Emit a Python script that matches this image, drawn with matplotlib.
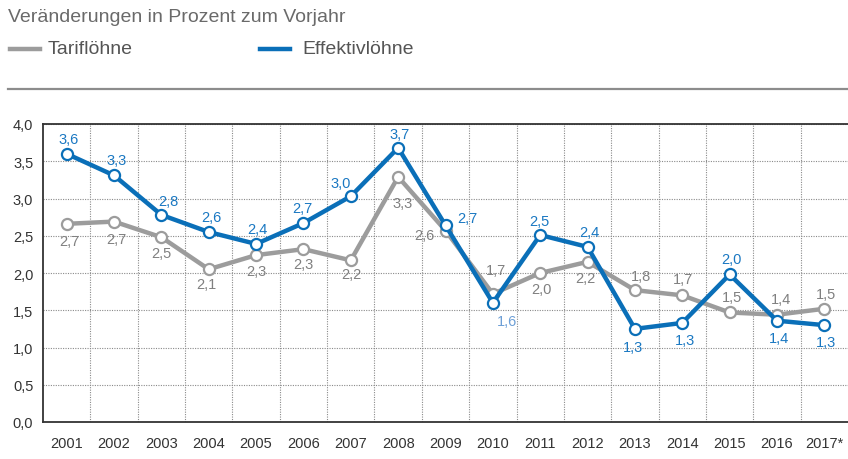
import matplotlib.pyplot as plt
from matplotlib.lines import Line2D

# Daten
years = list(range(2001, 2018))
year_labels = [str(y) for y in years[:-1]] + ['2017*']
tarif = [2.66, 2.69, 2.48, 2.05, 2.24, 2.32, 2.17, 3.29, 2.57, 1.72,
         2.00, 2.15, 1.77, 1.70, 1.47, 1.44, 1.52]
effektiv = [3.60, 3.31, 2.78, 2.55, 2.39, 2.67, 3.03, 3.68, 2.64, 1.60,
            2.51, 2.35, 1.25, 1.33, 1.98, 1.36, 1.30]
tarif_labels = ['2,7', '2,7', '2,5', '2,1', '2,3', '2,3', '2,2', '3,3', '2,6', '1,7',
                '2,0', '2,2', '1,8', '1,7', '1,5', '1,4', '1,5']
effektiv_labels = ['3,6', '3,3', '2,8', '2,6', '2,4', '2,7', '3,0', '3,7', '2,7', '1,6',
                   '2,5', '2,4', '1,3', '1,3', '2,0', '1,4', '1,3']

# Label-Versatz in Pixeln (dx, dy; dy positiv = nach oben)
tarif_off = [(3, -17), (2, -17), (0, -16), (-2, -15), (0, -16), (0, -15), (1, -14),
             (4, -26), (-21, -4), (3, 24), (1, -16), (-2, -16), (6, 14), (1, 16),
             (2, 15), (4, 16), (2, 15)]
effektiv_off = [(2, 15), (3, 15), (7, 14), (3, 15), (1, 15), (-1, 15), (-10, 13),
                (1, 14), (22, 7), (14, -18), (-1, 14), (2, 15), (-2, -18), (3, -17),
                (2, 15), (2, -17), (2, -17)]

BLUE = '#0a6fb8'
GREY = '#9c9c9c'
FONT = 'Liberation Sans'

plt.rcParams['font.family'] = [FONT, 'DejaVu Sans']

fig = plt.figure(figsize=(8.48, 4.6), dpi=100)
ax = fig.add_axes([43 / 848, 37 / 460, 1 - 43 / 848, 298 / 460])

ax.plot(years, tarif, color=GREY, lw=3.2, marker='o', ms=8, mfc='white',
        mec=GREY, mew=1.6, zorder=3, solid_joinstyle='miter')
ax.plot(years, effektiv, color=BLUE, lw=3.2, marker='o', ms=8, mfc='white',
        mec=BLUE, mew=1.6, zorder=4, solid_joinstyle='miter')

px = 72 / 100  # Pixel -> Punkte
for x, y, s, (dx, dy) in zip(years, tarif, tarif_labels, tarif_off):
    ax.annotate(s, (x, y), xytext=(dx * px, dy * px), textcoords='offset points',
                ha='center', va='center', fontsize=10.5, color='#808080', zorder=5)
for x, y, s, (dx, dy) in zip(years, effektiv, effektiv_labels, effektiv_off):
    col = '#6d9fd6' if x == 2010 else '#1a78c2'
    ax.annotate(s, (x, y), xytext=(dx * px, dy * px), textcoords='offset points',
                ha='center', va='center', fontsize=10.5, color=col, zorder=5)

ax.set_xlim(2000.5, 2017.5)
ax.set_ylim(0, 4.0)
ax.set_xticks(years)
ax.set_xticklabels(year_labels)
ax.set_yticks([i * 0.5 for i in range(9)])
ax.set_yticklabels([f'{i * 0.5:.1f}'.replace('.', ',') for i in range(9)])
ax.set_xticks([y + 0.5 for y in years[:-1]], minor=True)
ax.tick_params(which='both', length=0)
ax.tick_params(axis='x', pad=10, labelsize=10.5, colors='#333333')
ax.tick_params(axis='y', pad=7, labelsize=10.5, colors='#333333')
ax.xaxis.grid(True, which='minor', color='#8a8a8a', lw=0.8, ls=(0, (1, 1.2)))
ax.yaxis.grid(True, which='major', color='#8a8a8a', lw=0.8, ls=(0, (1, 1.2)))

for side in ['left', 'bottom', 'top']:
    ax.spines[side].set_color('#333333')
    ax.spines[side].set_linewidth(1.3)
    ax.spines[side].set_zorder(2.5)
ax.spines['right'].set_visible(False)

# Titel, Legende, Trennlinie
fig.text(8 / 848, 1 - 17 / 460, 'Veränderungen in Prozent zum Vorjahr', fontsize=14,
         color='#6a6a6a', va='center', ha='left')
fig.add_artist(Line2D([10 / 848, 40 / 848], [1 - 50 / 460] * 2, color=GREY, lw=3.2))
fig.text(48 / 848, 1 - 50 / 460, 'Tariflöhne', fontsize=14, color='#555555',
         va='center', ha='left')
fig.add_artist(Line2D([260 / 848, 290 / 848], [1 - 50 / 460] * 2, color=BLUE, lw=3.2))
fig.text(302 / 848, 1 - 50 / 460, 'Effektivlöhne', fontsize=14, color='#555555',
         va='center', ha='left')
fig.add_artist(Line2D([8 / 848, 1.0], [1 - 90 / 460] * 2, color='#8c8c8c', lw=1.6))

fig.savefig('out.png', dpi=100)
